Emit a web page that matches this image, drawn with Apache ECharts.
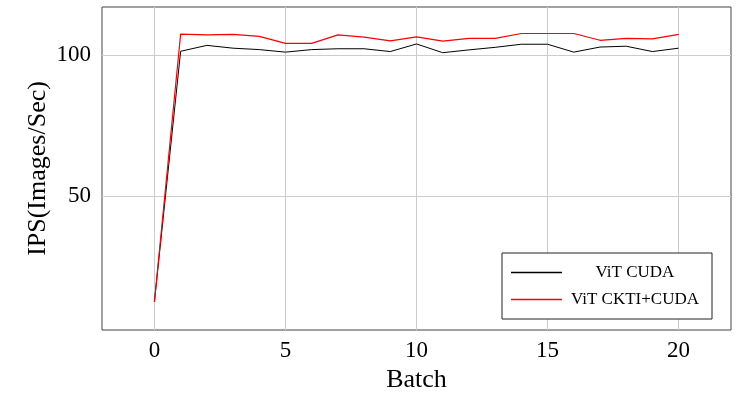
<!DOCTYPE html>
<html>
<head>
<meta charset="UTF-8">
<title>ViT IPS</title>
<script src="https://cdn.jsdelivr.net/npm/echarts@6/dist/echarts.min.js"></script>
<style>
  html, body { margin: 0; padding: 0; background: #fff; }
</style>
</head>
<body>
    <div id="main" style="width:738px;height:398px"></div>
</body>
<script>
   var batches = [0,1,2,3,4,5,6,7,8,9,10,11,12,13,14,15,16,17,18,19,20];
   var vitCuda = [12.5,101.3,103.4,102.4,101.9,101.0,101.9,102.2,102.2,101.2,103.9,100.8,101.8,102.7,103.8,103.8,101.0,102.8,103.1,101.2,102.4];
   var vitCkti = [12.5,107.4,107.1,107.3,106.6,104.1,104.1,107.1,106.3,105.0,106.4,104.9,105.9,105.9,107.6,107.6,107.6,105.2,105.9,105.7,107.3];
   var xTicks = [0,5,10,15,20];
   var yTicks = [50,100];

   var font = '"Liberation Serif", "DejaVu Serif", serif';
   var myChart = echarts.init(document.getElementById('main'));

   function pairs(ys){
       var out = [];
       for (var i = 0; i < batches.length; i++) {
           out.push([batches[i], ys[i]]);
       }
       return out;
   }

   var option = {
       backgroundColor: '#fff',
       animation: false,
       grid: {
           left: 102, top: 7, right: 7, bottom: 68,
           show: true, borderColor: '#444', borderWidth: 1
       },
       legend: {
           left: 502, top: 253,
           orient: 'vertical',
           backgroundColor: '#fff',
           borderColor: '#222', borderWidth: 1,
           padding: [11, 9, 11, 9],
           icon: 'rect',
           itemWidth: 51, itemHeight: 1.5, itemGap: 10,
           formatter: '{a|{name}}',
           textStyle: {
               rich: {
                   a: { width: 136, align: 'center', fontFamily: font, fontSize: 17, color: '#000', lineHeight: 17 }
               }
           },
           data: ['ViT CUDA', 'ViT CKTI+CUDA']
       },
       xAxis: {
           type: 'value', min: -2, max: 22,
           name: 'Batch', nameLocation: 'middle', nameGap: 37, nameMoveOverlap: false,
           nameTextStyle: { fontFamily: font, fontSize: 26, color: '#000' },
           axisLine: { show: false },
           axisTick: { show: false, customValues: xTicks },
           axisLabel: { customValues: xTicks, margin: 9, fontFamily: font, fontSize: 23, color: '#000' },
           splitLine: { show: true, lineStyle: { color: '#cccccc', width: 1 } }
       },
       yAxis: {
           type: 'value', min: 2.5, max: 117,
           name: 'IPS(Images/Sec)', nameLocation: 'middle', nameGap: 51, nameMoveOverlap: false,
           nameTextStyle: { fontFamily: font, fontSize: 26, color: '#000' },
           axisLine: { show: false },
           axisTick: { show: false, customValues: yTicks },
           axisLabel: { customValues: yTicks, margin: 11, fontFamily: font, fontSize: 23, color: '#000' },
           splitLine: { show: true, lineStyle: { color: '#cccccc', width: 1 } }
       },
       series: [
           {
               name: 'ViT CUDA', type: 'line', symbol: 'none',
               data: pairs(vitCuda),
               lineStyle: { color: '#000', width: 1 },
               itemStyle: { color: '#000' }
           },
           {
               name: 'ViT CKTI+CUDA', type: 'line', symbol: 'none',
               data: pairs(vitCkti),
               lineStyle: { color: '#ff0000', width: 1.2 },
               itemStyle: { color: '#ff0000' }
           }
       ]
   };
   myChart.setOption(option);
</script>
</html>
